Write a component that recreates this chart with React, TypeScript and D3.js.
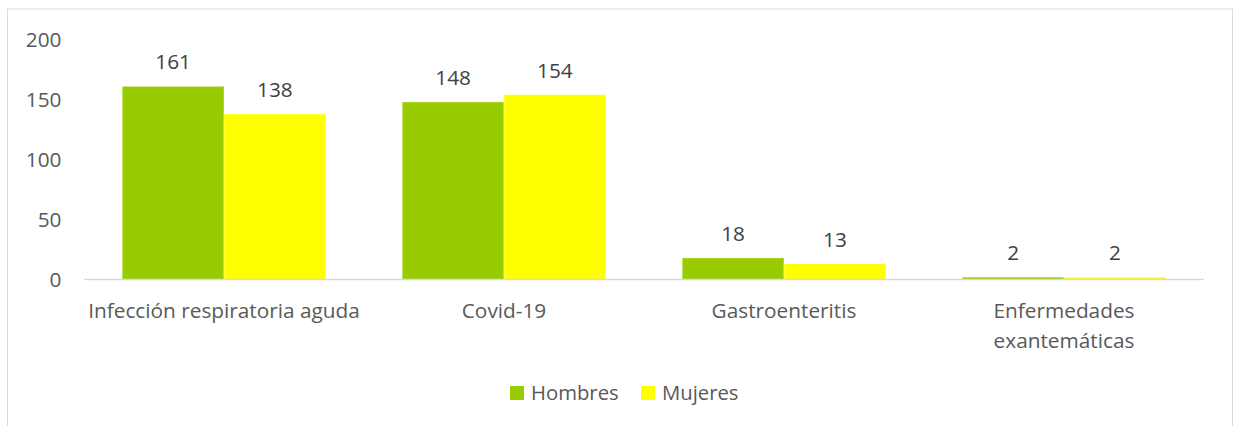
import React from "react";
import * as d3 from "d3";

// chart values
const categories = ["Infección respiratoria aguda", "Covid-19", "Gastroenteritis", "Enfermedades exantemáticas"];
const categoryLabels = [["Infección respiratoria aguda"], ["Covid-19"], ["Gastroenteritis"], ["Enfermedades", "exantemáticas"]];
const seriesNames = ["Hombres", "Mujeres"];
const hombres = [161, 148, 18, 2];
const mujeres = [138, 154, 13, 2];
const yTicks = [0, 50, 100, 150, 200];
const colors = ["#99CC00", "#FFFF00"];

const W = 1234;
const H = 426;
const FONT = "'Open Sans', 'Noto Sans', sans-serif";
const FS = 20.8;

const App = () => {
  const plot = { left: 84, right: 1204, top: 39.5, bottom: 279.5 };

  const x0 = d3.scaleBand<string>().domain(categories).range([plot.left, plot.right]).padding(0);
  const x1 = d3
    .scaleBand<string>()
    .domain(seriesNames)
    .range([0, x0.bandwidth()])
    .paddingInner(0)
    .paddingOuter(0.375);
  const y = d3.scaleLinear().domain([0, 200]).range([plot.bottom, plot.top]);

  const values = [hombres, mujeres];

  // legend layout
  const legend = [
    { name: "Hombres", x: 510 },
    { name: "Mujeres", x: 641 },
  ];

  return (
    <svg
      width={W}
      height={H}
      style={{ position: "absolute", left: 0, top: 0, background: "#fff" }}
      fontFamily={FONT}
    >
      <rect x={7.5} y={9} width={1225} height={H} fill="#fff" stroke="#d9d9d9" strokeWidth={1} />

      {/* y axis labels */}
      {yTicks.map((t) => (
        <text key={t} x={61.5} y={y(t)} dy="0.35em" textAnchor="end" fontSize={FS} fill="#595959">
          {t}
        </text>
      ))}

      {/* bars */}
      {categories.map((c, ci) => (
        <g key={c} transform={`translate(${x0(c)},0)`}>
          {seriesNames.map((s, si) => {
            const v = values[si][ci];
            const bx = x1(s) as number;
            return (
              <g key={s}>
                <rect
                  x={bx}
                  y={y(v)}
                  width={x1.bandwidth()}
                  height={y(0) - y(v)}
                  fill={colors[si]}
                  stroke="rgba(255,255,255,0.5)"
                  strokeWidth={0.75}
                />
                <text
                  x={bx + x1.bandwidth() / 2}
                  y={y(v) - 17}
                  textAnchor="middle"
                  fontSize={FS}
                  fill="#404040"
                >
                  {v}
                </text>
              </g>
            );
          })}
        </g>
      ))}

      {/* baseline */}
      <line x1={plot.left} x2={plot.right} y1={y(0)} y2={y(0)} stroke="#d9d9d9" strokeWidth={1.3} />

      {/* category labels */}
      {categories.map((c, ci) => (
        <text
          key={c}
          x={(x0(c) as number) + x0.bandwidth() / 2}
          y={318.3}
          textAnchor="middle"
          fontSize={FS}
          fill="#595959"
        >
          {categoryLabels[ci].map((line, li) => (
            <tspan key={li} x={(x0(c) as number) + x0.bandwidth() / 2} dy={li === 0 ? 0 : 30}>
              {line}
            </tspan>
          ))}
        </text>
      ))}

      {/* legend */}
      {legend.map((l, i) => (
        <g key={l.name}>
          <rect x={l.x} y={386} width={14} height={14} fill={colors[i]} />
          <text x={l.x + 21} y={400} fontSize={20.3} fill="#595959">
            {l.name}
          </text>
        </g>
      ))}
    </svg>
  );
};

export default App;
